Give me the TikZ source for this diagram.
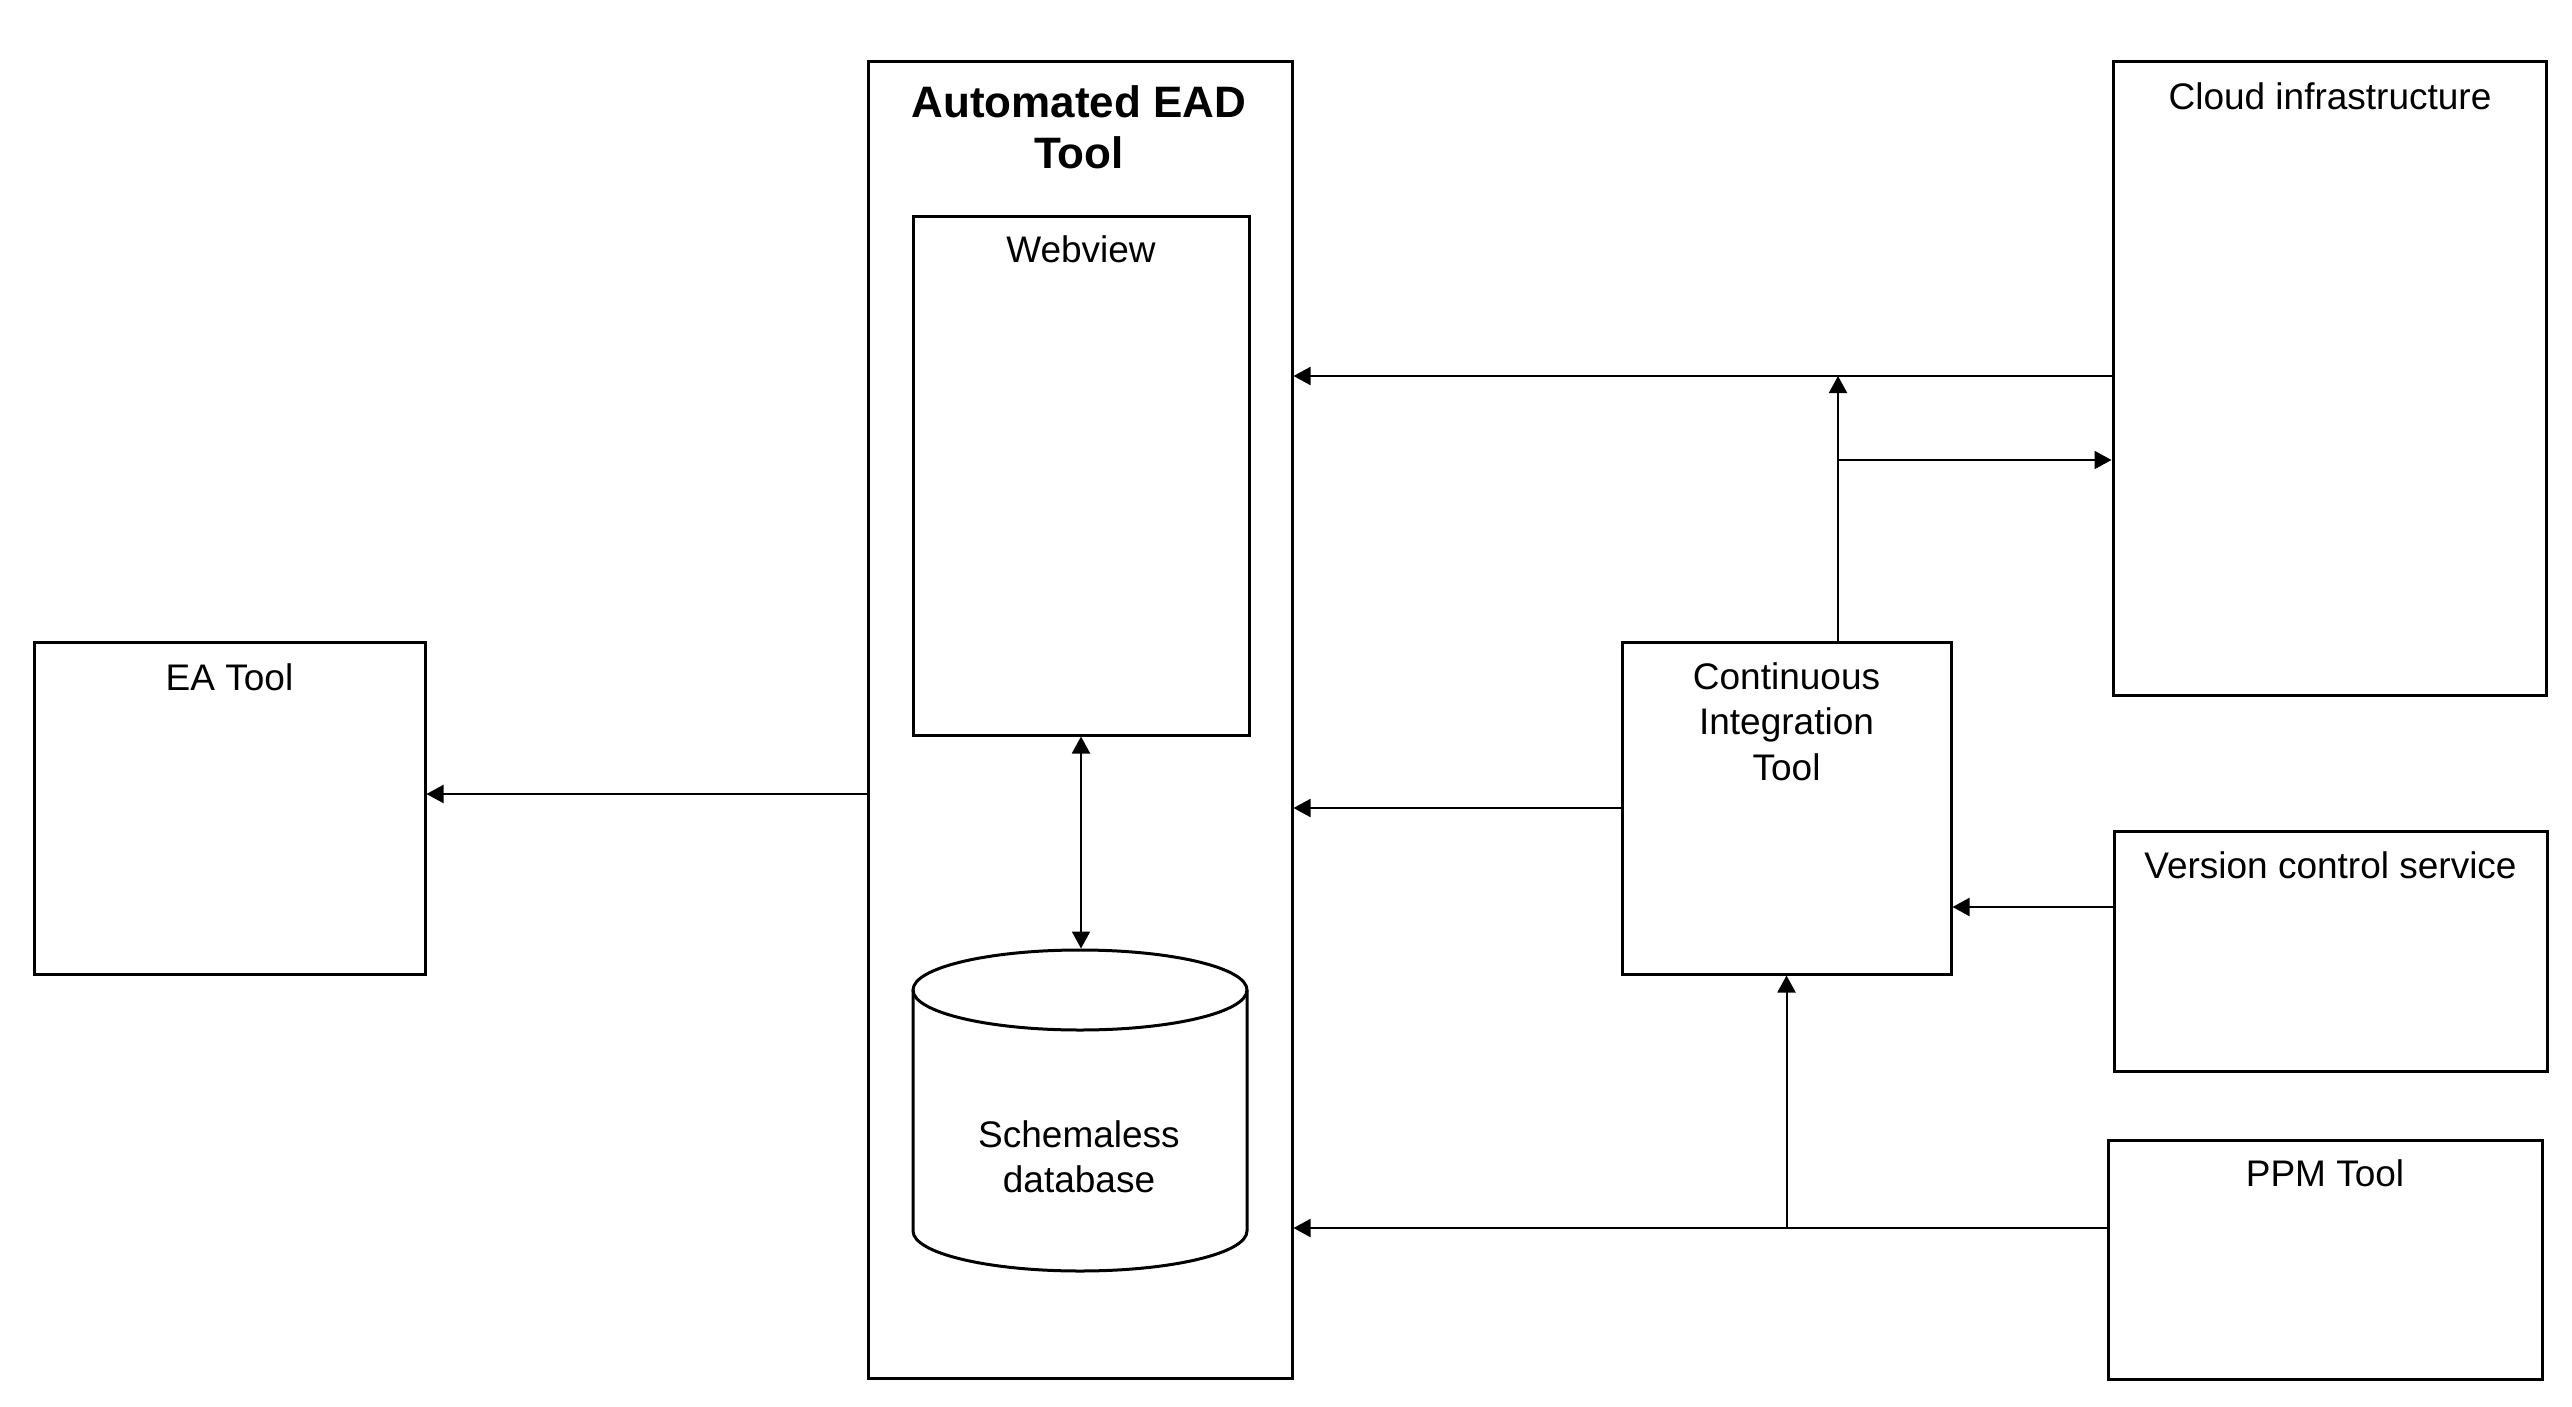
\documentclass[tikz,border=0pt]{standalone}
\usepackage{fontspec}
\setmainfont{Liberation Sans}
\usetikzlibrary{arrows.meta}
\newcommand{\mystrutA}{\rule{0pt}{30pt}}
\newcommand{\mystrutB}{\rule{0pt}{36pt}}
\begin{document}
\begin{tikzpicture}[x=1pt,y=-1pt,
  box/.style={draw=black, line width=3pt, inner sep=0pt},
  lbl/.style={inner sep=0pt, anchor=north, align=center, font=\fontsize{37pt}{45.5pt}\selectfont},
  ttl/.style={inner sep=0pt, anchor=north, align=center, font=\bfseries\fontsize{44pt}{51pt}\selectfont},
  arr/.style={line width=2pt, -{Triangle[length=17pt,width=18pt]}},
  darr/.style={line width=2pt, {Triangle[length=17pt,width=18pt]}-{Triangle[length=17pt,width=18pt]}},
  cyl/.style={draw=black, line width=3pt}
]
\fill[white] (0,0) rectangle (2572,1407);
\path[use as bounding box] (0,0) rectangle (2572,1407);

% boxes
\node[box, minimum width=391pt, minimum height=332pt] (ea) at (229.5,808) {};
\node[box, minimum width=424pt, minimum height=1316pt] (auto) at (1080,720) {};
\node[box, minimum width=336pt, minimum height=518pt] (web) at (1081,476) {};
\node[box, minimum width=329pt, minimum height=332pt] (ci) at (1786.5,808) {};
\node[box, minimum width=433pt, minimum height=633pt] (cloud) at (2329.5,378.5) {};
\node[box, minimum width=433pt, minimum height=240pt] (vcs) at (2330.5,951) {};
\node[box, minimum width=434pt, minimum height=239pt] (ppm) at (2325,1259.5) {};

% cylinder (Schemaless database)
\draw[cyl] (913,990) -- (913,1231)
  .. controls (913,1253.1) and (987.8,1271) .. (1080,1271)
  .. controls (1172.2,1271) and (1247,1253.1) .. (1247,1231) -- (1247,990);
\draw[cyl] (1080,990) ellipse [x radius=167, y radius=40];
\coordinate (cyltop) at (1080,948.5);

% labels
\node[lbl] (ealbl) at (229.5,660) {\mystrutA EA Tool};
\node[ttl] (autolbl) at (1079,81) {\mystrutB Automated EAD\\Tool};
\node[lbl] (weblbl) at (1081,232) {\mystrutA Webview};
\node[lbl] (dblbl) at (1079,1117) {\mystrutA Schemaless\\database};
\node[lbl] (cilbl) at (1786.5,659) {\mystrutA Continuous\\Integration\\Tool};
\node[lbl] (cloudlbl) at (2330,79) {\mystrutA Cloud infrastructure};
\node[lbl] (vcslbl) at (2330.5,848) {\mystrutA Version control service};
\node[lbl] (ppmlbl) at (2325,1156) {\mystrutA PPM Tool};

% helper coordinates
\coordinate (y376) at (0,376);
\coordinate (y460) at (0,460);
\coordinate (y794) at (0,794);
\coordinate (y907) at (0,907);
\coordinate (y1228) at (0,1228);
\coordinate (x1838) at (1838,0);

% connectors
\draw[arr] (auto.west |- y794) -- (ea.east |- y794);
\draw[darr] (web.south) -- (web.south |- cyltop);
\draw[arr] (cloud.west |- y376) -- (auto.east |- y376);
\draw[arr] (ci.north -| x1838) -- (x1838 |- y376);
\draw[arr] (x1838 |- y460) -- (cloud.west |- y460);
\draw[arr] (ci.west) -- (auto.east |- ci.west);
\draw[arr] (vcs.west |- y907) -- (ci.east |- y907);
\draw[arr] (ppm.west |- y1228) -- (auto.east |- y1228);
\draw[arr] (ci.south |- y1228) -- (ci.south);
\end{tikzpicture}
\end{document}
